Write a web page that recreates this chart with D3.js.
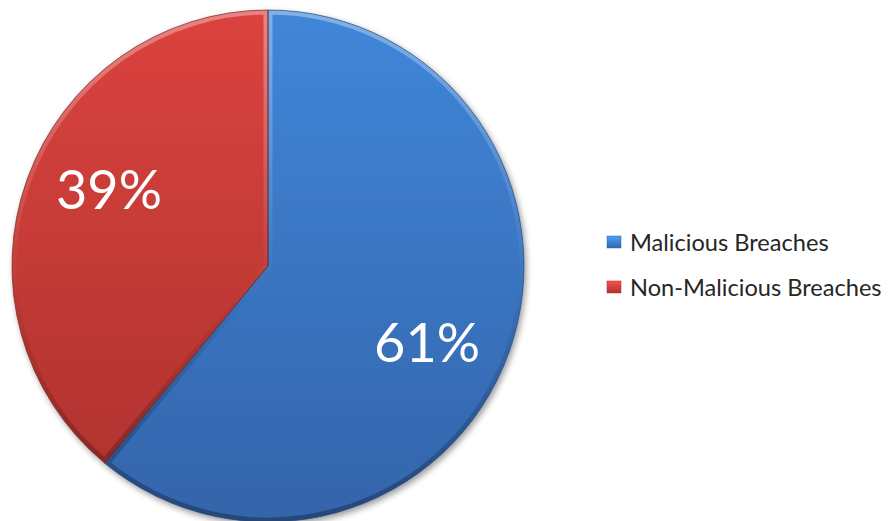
<!DOCTYPE html>
<html><head><meta charset="utf-8">
<script src="https://cdn.jsdelivr.net/npm/d3@7"></script>
<style>html,body{margin:0;padding:0;background:#fff;}svg{display:block;}</style>
</head><body>
<svg id="c" width="890" height="521"></svg>
<script>
const categories = ["Malicious Breaches", "Non-Malicious Breaches"];
const values = [61, 39];
const labels = ["61%", "39%"];
const colorsTop = ["#4086d9", "#db433f"];
const colorsBottom = ["#3464aa", "#ac312d"];

const svg = d3.select("#c");
const cx = 268, cy = 266, r = 256;
const defs = svg.append("defs");

categories.forEach((c, i) => {
  const g = defs.append("linearGradient").attr("id", "g" + i)
    .attr("gradientUnits", "userSpaceOnUse")
    .attr("x1", 0).attr("y1", -r).attr("x2", 0).attr("y2", r);
  g.append("stop").attr("offset", "0%").attr("stop-color", colorsTop[i]);
  g.append("stop").attr("offset", "100%").attr("stop-color", colorsBottom[i]);
  const lg = defs.append("linearGradient").attr("id", "lg" + i).attr("x1", 0).attr("y1", 0).attr("x2", 0).attr("y2", 1);
  lg.append("stop").attr("offset", "0%").attr("stop-color", d3.color(colorsTop[i]).brighter(0.5));
  lg.append("stop").attr("offset", "100%").attr("stop-color", colorsBottom[i]);
});
// bevel stroke gradient
const bg = defs.append("linearGradient").attr("id", "bev")
  .attr("gradientUnits", "userSpaceOnUse")
  .attr("x1", 0).attr("y1", -r).attr("x2", 0).attr("y2", r);
bg.append("stop").attr("offset", "0%").attr("stop-color", "#fff").attr("stop-opacity", 0.35);
bg.append("stop").attr("offset", "45%").attr("stop-color", "#fff").attr("stop-opacity", 0.05);
bg.append("stop").attr("offset", "60%").attr("stop-color", "#000").attr("stop-opacity", 0.05);
bg.append("stop").attr("offset", "100%").attr("stop-color", "#000").attr("stop-opacity", 0.3);

const f = defs.append("filter").attr("id", "sh").attr("x", "-10%").attr("y", "-10%").attr("width", "120%").attr("height", "120%");
f.append("feGaussianBlur").attr("in", "SourceAlpha").attr("stdDeviation", 3).attr("result", "b");
f.append("feOffset").attr("in", "b").attr("dx", 2).attr("dy", 3).attr("result", "o");
f.append("feComponentTransfer").attr("in", "o").attr("result", "o2")
  .append("feFuncA").attr("type", "linear").attr("slope", 0.4);
const m = f.append("feMerge");
m.append("feMergeNode").attr("in", "o2");
m.append("feMergeNode").attr("in", "SourceGraphic");

const pie = d3.pie().sort(null).value(d => d)(values);
const arc = d3.arc().innerRadius(0).outerRadius(r);
const g = svg.append("g").attr("transform", `translate(${cx},${cy})`);

pie.forEach((d, i) => {
  defs.append("clipPath").attr("id", "cp" + i).append("path").attr("d", arc(d));
});

const gs = g.append("g").attr("filter", "url(#sh)");
gs.selectAll("path.sl").data(pie).join("path")
  .attr("class", "sl")
  .attr("d", arc)
  .attr("fill", (d, i) => `url(#g${i})`);
gs.selectAll("path.bv").data(pie).join("path")
  .attr("class", "bv")
  .attr("d", arc)
  .attr("fill", "none")
  .attr("clip-path", (d, i) => `url(#cp${i})`)
  .attr("stroke", "url(#bev)")
  .attr("stroke-width", 9)
  .attr("stroke-linejoin", "miter");
gs.selectAll("path.ed").data(pie).join("path")
  .attr("class", "ed")
  .attr("d", arc)
  .attr("fill", "none")
  .attr("stroke", (d, i) => d3.color(colorsBottom[i]).darker(0.9))
  .attr("stroke-opacity", 0.7)
  .attr("stroke-width", 1);

const lr = 0.69 * r, rot = 6 * Math.PI / 180;
g.selectAll("text.lbl").data(pie).join("text")
  .attr("class", "lbl")
  .attr("x", d => { const a = (d.startAngle + d.endAngle) / 2 + rot; return Math.sin(a) * lr; })
  .attr("y", d => { const a = (d.startAngle + d.endAngle) / 2 + rot; return -Math.cos(a) * lr; })
  .attr("text-anchor", "middle").attr("dy", "0.36em")
  .attr("font-family", "Lato, 'Open Sans', sans-serif").attr("font-size", 54)
  .attr("fill", "#fff")
  .text((d, i) => labels[i]);

const leg = svg.append("g").attr("transform", "translate(607,236)");
const rows = leg.selectAll("g").data(categories).join("g")
  .attr("transform", (d, i) => `translate(0,${i * 45})`);
rows.append("rect").attr("width", 14).attr("height", 12)
  .attr("fill", (d, i) => `url(#lg${i})`).attr("stroke", (d, i) => colorsBottom[i]).attr("stroke-width", 0.5);
rows.append("text").attr("x", 23).attr("y", 6).attr("dy", "0.36em")
  .attr("font-family", "Lato, 'Open Sans', sans-serif").attr("font-size", 23.6)
  .attr("fill", "#262626")
  .text(d => d);
</script>
</body></html>
